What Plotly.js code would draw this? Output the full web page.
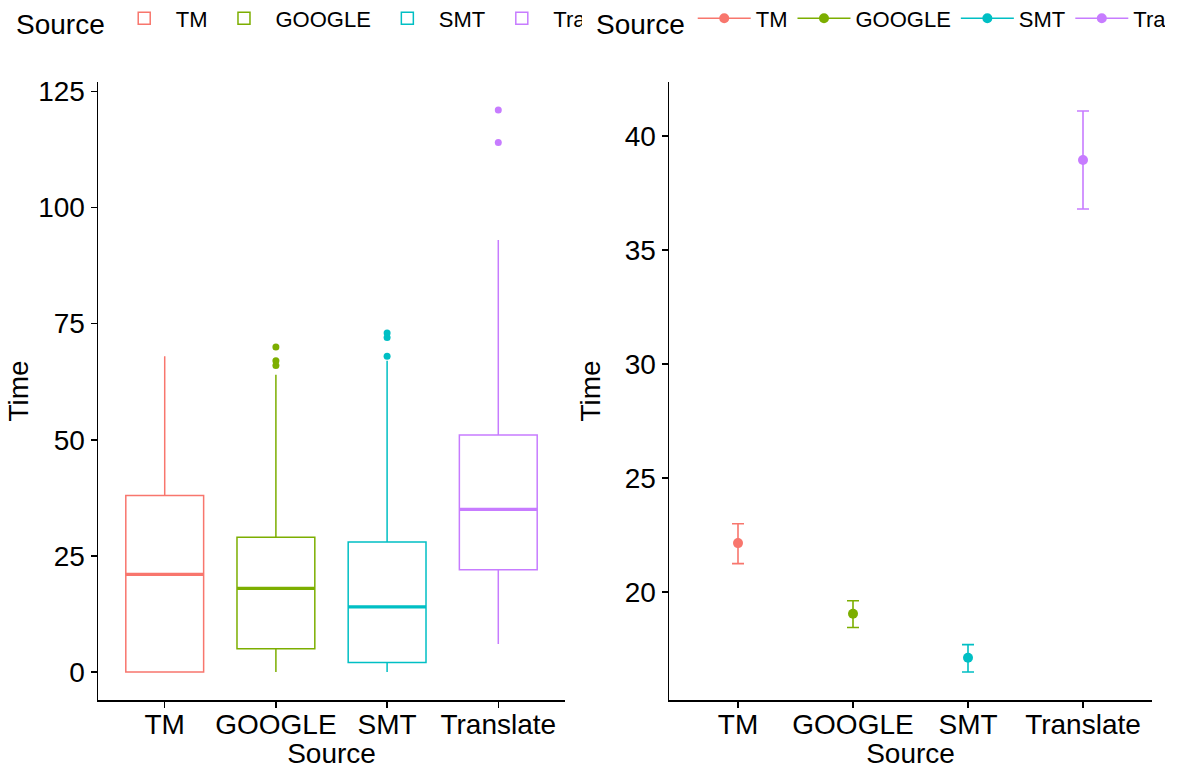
<!DOCTYPE html>
<html>
<head>
<meta charset="utf-8">
<script src="https://cdn.plot.ly/plotly-3.0.1.min.js"></script>
<style>
  html, body { margin: 0; padding: 0; background: #ffffff; }
  #chart { width: 1165px; height: 769px; }
</style>
</head>
<body>
<div id="chart"></div>
<script>
// ---------- data ----------
const categories = ['TM', 'GOOGLE', 'SMT', 'Translate'];
const colors = ['#F8766D', '#7CAE00', '#00BFC4', '#C77CFF'];

// box plot statistics (left panel)
const q1Time = [0, 5, 2, 22];
const medianTime = [21, 18, 14, 35];
const q3Time = [38, 29, 28, 51];
const lowerWhisker = [0, 0, 0, 6];
const upperWhisker = [68, 64, 67, 93];
const outlierTime = [[], [66, 67, 70], [68, 72, 73], [114, 121]];

// mean with error bars (right panel)
const meanTime = [22.15, 19.05, 17.12, 38.95];
const ciLow = [21.25, 18.45, 16.5, 36.8];
const ciHigh = [23.0, 19.62, 17.7, 41.1];

const leftTicks = [0, 25, 50, 75, 100, 125];
const rightTicks = [20, 25, 30, 35, 40];

// ---------- traces ----------
const FONT = 'Liberation Sans, Arial, sans-serif';
const traces = [];

categories.forEach((cat, i) => {
  traces.push({
    type: 'box', name: cat, legend: 'legend', legendgroup: 'box' + cat,
    x: [cat], q1: [q1Time[i]], median: [medianTime[i]], q3: [q3Time[i]],
    lowerfence: [lowerWhisker[i]], upperfence: [upperWhisker[i]],
    width: 0.7, whiskerwidth: 0, boxpoints: false,
    line: { color: colors[i], width: 1.5 }, fillcolor: 'rgba(255,255,255,0)',
    xaxis: 'x', yaxis: 'y', hoverinfo: 'y'
  });
  // thick median line
  traces.push({
    type: 'box', name: cat, showlegend: false,
    x: [cat], q1: [medianTime[i]], median: [medianTime[i]], q3: [medianTime[i]],
    lowerfence: [medianTime[i]], upperfence: [medianTime[i]],
    width: 0.7, whiskerwidth: 0, boxpoints: false,
    line: { color: colors[i], width: 3.2 }, fillcolor: 'rgba(255,255,255,0)',
    xaxis: 'x', yaxis: 'y', hoverinfo: 'skip'
  });
  if (outlierTime[i].length) {
    traces.push({
      type: 'scatter', mode: 'markers', showlegend: false,
      x: outlierTime[i].map(() => cat), y: outlierTime[i],
      marker: { color: colors[i], size: 7 },
      xaxis: 'x', yaxis: 'y'
    });
  }
});

categories.forEach((cat, i) => {
  traces.push({
    type: 'scatter', mode: 'lines+markers', name: cat, legend: 'legend2',
    x: [cat], y: [meanTime[i]],
    error_y: {
      type: 'data', symmetric: false,
      array: [ciHigh[i] - meanTime[i]], arrayminus: [meanTime[i] - ciLow[i]],
      color: colors[i], thickness: 1.6, width: 6
    },
    marker: { color: colors[i], size: 10 },
    line: { color: colors[i], width: 1.6 },
    xaxis: 'x2', yaxis: 'y2'
  });
});

// ---------- layout ----------
const W = 1165, H = 769;
const L = 98, R = 13, T = 82, B = 69;
const plotW = W - L - R;
const TICK_SIZE = 28;
const axisCommon = {
  showline: true, linecolor: '#000000', linewidth: 1.5, mirror: false,
  showgrid: false, zeroline: false,
  ticks: 'outside', ticklen: 6, tickwidth: 1.5, tickcolor: '#000000',
  tickfont: { family: FONT, size: TICK_SIZE, color: '#000000' }
};
const titleFont = { family: FONT, size: 28, color: '#000000' };

const legendCommon = {
  orientation: 'h', xref: 'container', yref: 'container',
  xanchor: 'left', y: 1 - 21 / H, yanchor: 'middle',
  itemwidth: 53,
  font: { family: FONT, size: 22, color: '#000000' },
  traceorder: 'normal', itemclick: false, itemdoubleclick: false
};

const layout = {
  width: W, height: H,
  margin: { l: L, r: R, t: T, b: B, autoexpand: false },
  paper_bgcolor: '#ffffff', plot_bgcolor: '#ffffff',
  boxmode: 'overlay',
  font: { family: FONT, color: '#000000' },
  xaxis: Object.assign({}, axisCommon, {
    domain: [0, (565 - L) / plotW], anchor: 'y',
    type: 'category', categoryorder: 'array', categoryarray: categories,
    range: [-0.6, 3.6], ticklabelstandoff: -7,
    title: { text: 'Source', font: titleFont, standoff: 0 }
  }),
  yaxis: Object.assign({}, axisCommon, {
    anchor: 'x', range: [-6.05, 127.05], tickvals: leftTicks,
    title: { text: 'Time', font: titleFont, standoff: 1 }
  }),
  xaxis2: Object.assign({}, axisCommon, {
    domain: [(669 - L) / plotW, 1], anchor: 'y2',
    type: 'category', categoryorder: 'array', categoryarray: categories,
    range: [-0.6, 3.6], ticklabelstandoff: -7,
    title: { text: 'Source', font: titleFont, standoff: 0 }
  }),
  yaxis2: Object.assign({}, axisCommon, {
    anchor: 'x2', range: [15.27, 42.37], tickvals: rightTicks,
    title: { text: 'Time', font: titleFont, standoff: 16 }
  }),
  legend: Object.assign({}, legendCommon, {
    x: 14 / W, bgcolor: 'rgba(255,255,255,0)', borderwidth: 0,
    title: { text: 'Source', font: titleFont, side: 'left' }
  }),
  legend2: Object.assign({}, legendCommon, {
    x: 582 / W, bgcolor: '#ffffff', bordercolor: '#ffffff', borderwidth: 12,
    title: { text: 'Source', font: titleFont, side: 'left' }
  }),
  showlegend: true
};

Plotly.newPlot('chart', traces, layout, { displayModeBar: false, staticPlot: true });
</script>
</body>
</html>
